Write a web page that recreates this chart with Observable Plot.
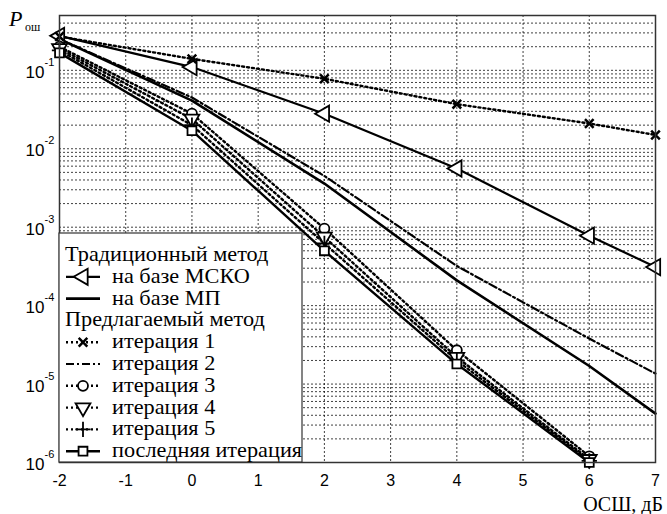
<!DOCTYPE html>
<html>
<head>
<meta charset="utf-8">
<script src="https://cdn.jsdelivr.net/npm/d3@7"></script>
<script src="https://cdn.jsdelivr.net/npm/@observablehq/plot@0.6"></script>
<style>
  html, body { margin: 0; padding: 0; background: #fff; }
  svg { display: block; }
</style>
</head>
<body>
<div id="chart"></div>
<script>
// ---- data ----
const snr = [-2, 0, 2, 4, 6, 7];
const snrLow = [-2, 0, 2, 4, 6];
const xTickValues = [-2, -1, 0, 1, 2, 3, 4, 5, 6, 7];
const yDecades = [1e-6, 1e-5, 1e-4, 1e-3, 1e-2, 1e-1];
const yExponents = ["-6", "-5", "-4", "-3", "-2", "-1"];

const mskoVals  = [0.275, 0.11, 0.028, 0.0056, 7.8e-4, 3.1e-4];
const mlVals    = [0.25, 0.041, 3.6e-3, 2.1e-4, 1.7e-5, 4.2e-6];
const iter1Vals = [0.27, 0.14, 0.078, 0.037, 0.021, 0.015];
const iter2Vals = [0.25, 0.045, 4.5e-3, 3.2e-4, 3.8e-5, 1.36e-5];
const iter3Vals = [0.20, 0.028, 9.6e-4, 2.7e-5, 1.2e-6];
const iter4Vals = [0.19, 0.024, 7.5e-4, 2.2e-5, 1.1e-6];
const iter5Vals = [0.18, 0.020, 6.2e-4, 2.0e-5, 1.05e-6];
const lastVals  = [0.167, 0.017, 5.0e-4, 1.8e-5, 1.0e-6];

const legendHeader1 = "Традиционный метод";
const legendHeader2 = "Предлагаемый метод";
const yLabelMain = "P";
const yLabelSub = "ош";
const xLabel = "ОСШ, дБ";

// series definitions (style only)
const series = [
  {name: "на базе МСКО", xs: snr, vals: mskoVals, dash: null, width: 2.2, symbol: "triangle", rotate: -90, r: 6},
  {name: "на базе МП", xs: snr, vals: mlVals, dash: null, width: 2.6, symbol: null},
  {name: "итерация 1", xs: snr, vals: iter1Vals, dash: "2,3", width: 2.4, symbol: "times", rotate: 0, r: 4, sw: 2.5},
  {name: "итерация 2", xs: snr, vals: iter2Vals, dash: "8,3,2,3", width: 2.2, symbol: null},
  {name: "итерация 3", xs: snrLow, vals: iter3Vals, dash: "2,3", width: 2.4, symbol: "circle", rotate: 0, r: 5},
  {name: "итерация 4", xs: snrLow, vals: iter4Vals, dash: "2,3", width: 2.4, symbol: "triangle", rotate: 180, r: 5.5},
  {name: "итерация 5", xs: snrLow, vals: iter5Vals, dash: "2,3", width: 2.4, symbol: "plus", rotate: 0, r: 5},
  {name: "последняя итерация", xs: snrLow, vals: lastVals, dash: null, width: 2.4, symbol: "square", rotate: 0, r: 5}
];

const rows = s => s.xs.map((x, i) => ({x, y: s.vals[i]}));

const W = 667, H = 514;
const yMinor = d3.scaleLog().domain([1e-6, 0.5]).ticks().filter(v => v <= 0.5);

const gridStyle = {stroke: "#000", strokeWidth: 1, strokeDasharray: "2,2", strokeOpacity: 0.75};
const marks = [
  Plot.ruleX(xTickValues, gridStyle),
  Plot.ruleY(yMinor, gridStyle)
];

for (const s of series) {
  marks.push(Plot.line(rows(s), {x: "x", y: "y", stroke: "#000", strokeWidth: s.width,
    strokeDasharray: s.dash || undefined, strokeLinejoin: "round"}));
}
for (const s of series) {
  if (!s.symbol) continue;
  marks.push(Plot.dot(rows(s), {x: "x", y: "y", symbol: s.symbol, r: s.r, rotate: s.rotate,
    stroke: "#000", strokeWidth: s.sw || 1.8, fill: (s.symbol === "times" || s.symbol === "plus") ? "#000" : "#fff"}));
}

// y tick labels: 10 with superscript exponent
marks.push(Plot.text(yDecades, {x: () => -2, y: d => d, text: () => "10", textAnchor: "end", dx: -15, dy: 2,
  fontSize: 17, fill: "#000"}));
marks.push(Plot.text(yDecades.map((d, i) => ({d, e: yExponents[i]})), {x: () => -2, y: "d", text: "e", textAnchor: "start",
  dx: -15, dy: -8, fontSize: 11, fill: "#000"}));

marks.push(Plot.axisX(xTickValues, {tickSize: 0, tickPadding: 12, fontSize: 16, label: null, tickFormat: d => String(d)}));
marks.push(Plot.frame({stroke: "#333", strokeWidth: 1.5}));

const plot = Plot.plot({
  width: W,
  height: H,
  marginLeft: 59,
  marginRight: 12,
  marginTop: 15,
  marginBottom: 52,
  style: {fontFamily: "'Liberation Sans', Arial, sans-serif", background: "#fff", color: "#000"},
  x: {type: "linear", domain: [-2, 7]},
  y: {type: "log", domain: [1e-6, 0.5], axis: null},
  marks
});

document.getElementById("chart").appendChild(plot);

// ---- legend & axis titles drawn with d3 on the plot's svg ----
const svg = d3.select(plot);
const xs = plot.scale("x"), ys = plot.scale("y");
const left = xs.range[0], bottom = ys.range[0];
const SERIF = "'Liberation Serif', 'Times New Roman', serif";
const g = svg.append("g").style("font-family", SERIF)
  .attr("text-anchor", "start").attr("fill", "#000");

const boxW = 243, boxH = 229;
g.append("rect").attr("x", left).attr("y", bottom - boxH).attr("width", boxW).attr("height", boxH)
  .attr("fill", "#fff").attr("stroke", "#333").attr("stroke-width", 1.2);

const rowY0 = bottom - boxH + 22, step = 21.8;
const legendRows = [
  {header: legendHeader1},
  series[0], series[1],
  {header: legendHeader2},
  series[2], series[3], series[4], series[5], series[6], series[7]
];
const stretch = el => {
  const n = el.node();
  const w = n.getComputedTextLength();
  if (w > 0) el.attr("textLength", w * 1.06).attr("lengthAdjust", "spacingAndGlyphs");
};
legendRows.forEach((r, i) => {
  const cy = rowY0 + i * step;
  if (r.header) {
    stretch(g.append("text").attr("x", left + 6).attr("y", cy + 6).style("font-family", SERIF).attr("font-size", 21).text(r.header));
    return;
  }
  const x1 = left + 7, x2 = left + 41, cx = (x1 + x2) / 2;
  g.append("line").attr("x1", x1).attr("x2", x2).attr("y1", cy).attr("y2", cy)
    .attr("stroke", "#000").attr("stroke-width", r.width)
    .attr("stroke-dasharray", r.dash || null);
  if (r.symbol) {
    const sym = {triangle: d3.symbolTriangle, circle: d3.symbolCircle, square: d3.symbolSquare,
                 times: d3.symbolTimes, plus: d3.symbolPlus}[r.symbol];
    const size = Math.PI * r.r * r.r;
    g.append("path").attr("d", d3.symbol(sym, size)())
      .attr("transform", `translate(${cx},${cy}) rotate(${r.rotate || 0})`)
      .attr("fill", (r.symbol === "times" || r.symbol === "plus") ? "#000" : "#fff")
      .attr("stroke", "#000").attr("stroke-width", r.sw || 1.8);
  }
  stretch(g.append("text").attr("x", left + 53).attr("y", cy + 6).style("font-family", SERIF).attr("font-size", 21).text(r.name));
});

// y-axis title P_ош
g.append("text").attr("x", 9).attr("y", 26).style("font-family", SERIF).attr("font-size", 22).attr("font-style", "italic").text(yLabelMain);
g.append("text").attr("x", 25).attr("y", 31).style("font-family", SERIF).attr("font-size", 12).text(yLabelSub);
// x-axis title
g.append("text").attr("x", W - 4).attr("y", 511).attr("text-anchor", "end").style("font-family", SERIF).attr("font-size", 20).text(xLabel);
</script>
</body>
</html>
